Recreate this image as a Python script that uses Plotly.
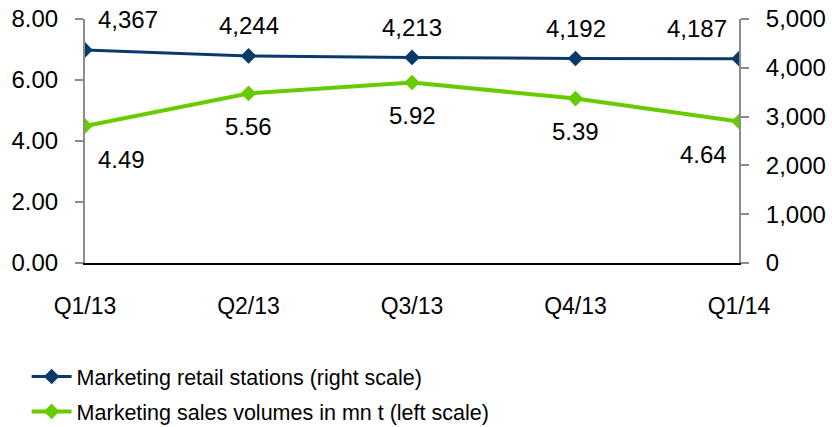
import plotly.graph_objects as go

quarters = ["Q1/13", "Q2/13", "Q3/13", "Q4/13", "Q1/14"]
retail_stations = [4367, 4244, 4213, 4192, 4187]
sales_volumes = [4.49, 5.56, 5.92, 5.39, 4.64]

BLUE = "#0a3a6b"
GREEN = "#66cc00"
GREY = "#8c8c8c"
FONT = "Liberation Sans, Arial, sans-serif"

fig = go.Figure()

fig.add_trace(go.Scatter(
    x=quarters, y=retail_stations, yaxis="y2",
    mode="lines+markers", name="Marketing retail stations (right scale)",
    legendgroup="stations",
    line=dict(color=BLUE, width=3),
    marker=dict(symbol="diamond", size=12, color=BLUE),
))
fig.add_trace(go.Scatter(
    x=quarters, y=sales_volumes, yaxis="y",
    mode="lines+markers", name="Marketing sales volumes in mn t (left scale)",
    legendgroup="volumes",
    line=dict(color=GREEN, width=4),
    marker=dict(symbol="diamond", size=12, color=GREEN),
))

annotations = []
n = len(quarters)
for i, q in enumerate(quarters):
    if i == 0:
        xa, xs = "left", 11
    elif i == n - 1:
        xa, xs = "right", -10
    else:
        xa, xs = "center", 0
    annotations.append(dict(
        x=q, y=retail_stations[i], xref="x", yref="y2",
        text=f"{retail_stations[i]:,}", showarrow=False,
        xanchor=xa, yanchor="middle", xshift=xs, yshift=30,
        font=dict(size=24, color="black", family=FONT),
    ))
    annotations.append(dict(
        x=q, y=sales_volumes[i], xref="x", yref="y",
        text=f"{sales_volumes[i]:.2f}", showarrow=False,
        xanchor=xa, yanchor="middle", xshift=xs, yshift=-33,
        font=dict(size=24, color="black", family=FONT),
    ))

fig.update_layout(
    width=832, height=427,
    margin=dict(l=85, r=93, t=19, b=164, autoexpand=False),
    paper_bgcolor="white", plot_bgcolor="white",
    font=dict(family=FONT, size=24, color="black"),
    xaxis=dict(
        type="category", range=[0, n - 1],
        showgrid=False, showline=True, linecolor="black", linewidth=1.5,
        ticks="", tickfont=dict(size=23), ticklabelstandoff=22,
    ),
    yaxis=dict(
        range=[0, 8], dtick=2, tickformat=".2f",
        showgrid=False, zeroline=False,
        showline=True, linecolor=GREY, linewidth=2,
        ticks="outside", ticklen=8, tickcolor=GREY, tickwidth=2,
        ticklabelstandoff=12,
    ),
    yaxis2=dict(
        range=[0, 5000], dtick=1000, tickformat=",",
        overlaying="y", side="right",
        showgrid=False, zeroline=False,
        showline=True, linecolor=GREY, linewidth=2,
        ticks="outside", ticklen=8, tickcolor=GREY, tickwidth=2,
        ticklabelstandoff=12,
    ),
    showlegend=True,
    legend=dict(
        xref="container", yref="container",
        x=0.032, y=1 - 356 / 427, xanchor="left", yanchor="top",
        font=dict(size=21.5), traceorder="grouped", tracegroupgap=4,
        itemwidth=40, bgcolor="rgba(0,0,0,0)",
    ),
    annotations=annotations,
)

fig.write_html("out.html")
